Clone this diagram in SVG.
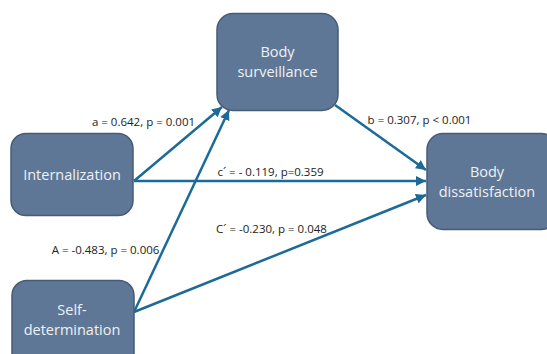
<svg xmlns="http://www.w3.org/2000/svg" width="547" height="354" viewBox="0 0 547 354">
<style>
.box{fill:#5f7796;stroke:#465b76;stroke-width:1.5}
.nt{font-family:"Open Sans","Liberation Sans",sans-serif;font-size:14.5px;fill:#eef1f5;text-anchor:middle}
.lb{font-family:"Open Sans","Liberation Sans",sans-serif;font-size:11.5px;fill:#222;text-anchor:middle}
.ar{stroke:#1c6a98;stroke-width:2.5;fill:none;marker-end:url(#ah)}
</style>
<defs>
<marker id="ah" markerUnits="userSpaceOnUse" markerWidth="12" markerHeight="10" refX="10" refY="5" orient="auto">
<path d="M0,0 L10,5 L0,10 Z" fill="#1c6a98"/>
</marker>
</defs>
<rect width="547" height="354" fill="#fff"/>
<g id="connectors">
<line class="ar" x1="134" y1="181" x2="222" y2="107"/>
<line class="ar" x1="134" y1="312" x2="229" y2="110"/>
<line class="ar" x1="134" y1="181" x2="426" y2="181"/>
<line class="ar" x1="134" y1="312" x2="426" y2="195"/>
<line class="ar" x1="335" y1="105" x2="426" y2="170"/>
</g>
<g id="body-surveillance">
<rect class="box" x="217" y="13.5" width="121" height="97" rx="16"/>
<text class="nt" x="277.5" y="57">Body</text>
<text class="nt" x="277.5" y="77">surveillance</text>
</g>
<g id="internalization">
<rect class="box" x="11" y="133.5" width="122" height="82" rx="15"/>
<text class="nt" x="72" y="180">Internalization</text>
</g>
<g id="self-determination">
<rect class="box" x="12" y="280.5" width="122" height="90" rx="15"/>
<text class="nt" x="72" y="315">Self-</text>
<text class="nt" x="72" y="335">determination</text>
</g>
<g id="body-dissatisfaction">
<rect class="box" x="427" y="133.5" width="130" height="96" rx="16"/>
<text class="nt" x="487" y="177">Body</text>
<text class="nt" x="487" y="197">dissatisfaction</text>
</g>
<g id="labels">
<text class="lb" x="143.5" y="126">a = 0.642, p = 0.001</text>
<text class="lb" x="419.5" y="124">b = 0.307, p &lt; 0.001</text>
<text class="lb" x="270.5" y="176">c´ = - 0.119, p=0.359</text>
<text class="lb" x="271.5" y="233">C´ = -0.230, p = 0.048</text>
<text class="lb" x="105.5" y="254">A = -0.483, p = 0.006</text>
</g>
</svg>
